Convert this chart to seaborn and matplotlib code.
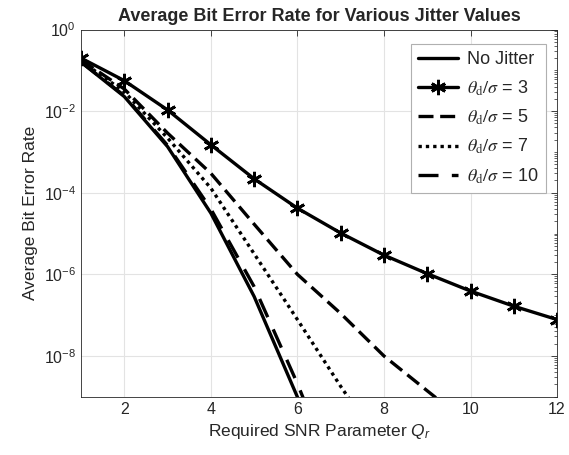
import numpy as np
import matplotlib
matplotlib.use("Agg")
import matplotlib.pyplot as plt
import matplotlib.ticker as mticker
import seaborn as sns

# ---- data ----
q_r = [1, 2, 3, 4, 5, 6, 7, 8, 9, 10, 11, 12]
ber_no_jitter = [0.159, 0.0228, 1.35e-3, 3.17e-5, 2.87e-7, 9.87e-10, 1.28e-12,
                 np.nan, np.nan, np.nan, np.nan, np.nan]
ber_theta3 = [0.20, 0.056, 0.0107, 1.5e-3, 2.2e-4, 4.2e-5, 1.03e-5, 2.96e-6,
              1.04e-6, 3.9e-7, 1.66e-7, 7.8e-8]
ber_theta5 = [0.18, 0.035, 2.9e-3, 3.0e-4, 1.7e-5, 1.0e-6, 1.1e-7, 1.0e-8,
              1.4e-9, 2.0e-10, np.nan, np.nan]
ber_theta7 = [0.17, 0.030, 2.2e-3, 1.3e-4, 3.2e-6, 7.8e-8, 1.8e-9, 5.0e-11,
              np.nan, np.nan, np.nan, np.nan]
ber_theta10 = [0.16, 0.024, 1.45e-3, 4.0e-5, 5.0e-7, 2.1e-9, 5.0e-12,
               np.nan, np.nan, np.nan, np.nan, np.nan]
labels = ["No Jitter", r"$\theta_{\rm d}/\sigma$ = 3", r"$\theta_{\rm d}/\sigma$ = 5",
          r"$\theta_{\rm d}/\sigma$ = 7", r"$\theta_{\rm d}/\sigma$ = 10"]
x_ticks = [2, 4, 6, 8, 10, 12]
y_ticks = [1e0, 1e-2, 1e-4, 1e-6, 1e-8]

sns.set_theme(style="white")
plt.rcParams["font.family"] = ["Liberation Sans", "DejaVu Sans"]
plt.rcParams["mathtext.fontset"] = "custom"
plt.rcParams["mathtext.rm"] = "Liberation Sans"
plt.rcParams["mathtext.it"] = "Liberation Sans:italic"

fig = plt.figure(figsize=(5.69, 4.55), dpi=100)
ax = fig.add_axes([0.1424, 0.128, 0.8366, 0.807])

series = [ber_no_jitter, ber_theta3, ber_theta5, ber_theta7, ber_theta10]
asterisk = (6, 2, 0)
styles = [
    dict(linestyle="-", marker=""),
    dict(linestyle="-", marker=asterisk, markersize=11, markeredgewidth=2.0),
    dict(linestyle=(0, (4.5, 2.0)), marker=""),
    dict(linestyle=(0, (1.0, 1.2)), marker=""),
    dict(linestyle=(0, (6.0, 4.0)), marker=""),
]
for vals, lab in zip(series, labels):
    sns.lineplot(x=q_r, y=vals, ax=ax, color="black", linewidth=2.4, legend=False)

lines = ax.get_lines()
for ln, st in zip(lines, styles):
    ln.set_linestyle(st["linestyle"])
    ln.set_marker(st["marker"])
    if st["marker"]:
        ln.set_markersize(st["markersize"])
        ln.set_markeredgewidth(st["markeredgewidth"])
        ln.set_markeredgecolor("black")
    ln.set_dash_capstyle("butt")

ax.set_yscale("log")
ax.set_xlim(1, 12)
ax.set_ylim(1e-9, 1e0)
ax.set_xticks(x_ticks)
ax.set_xticklabels([str(t) for t in x_ticks])
ax.yaxis.set_major_locator(mticker.FixedLocator(y_ticks))
ax.yaxis.set_minor_locator(mticker.LogLocator(base=10, subs=np.arange(1, 10), numticks=30))
ax.yaxis.set_minor_formatter(mticker.NullFormatter())
ax.tick_params(axis="both", which="both", direction="in", top=True, right=True,
               labelsize=11.5, colors="#262626")
ax.tick_params(which="major", length=4, width=0.6)
ax.tick_params(which="minor", length=2, width=0.5)
ax.grid(True, which="major", color="#e3e3e3", linewidth=0.8)
for s in ax.spines.values():
    s.set_color("#262626")
    s.set_linewidth(0.6)

ax.set_title("Average Bit Error Rate for Various Jitter Values", fontsize=13,
             fontweight="bold", pad=6)
ax.set_xlabel(r"Required SNR Parameter $Q_r$", fontsize=12.5, color="#262626")
ax.set_ylabel("Average Bit Error Rate", fontsize=12.5, color="#262626")

leg = ax.legend(handles=list(lines), labels=labels, loc="upper right", fontsize=13,
                frameon=True, fancybox=False,
                edgecolor="#b0b0b0", framealpha=1, handlelength=2.2,
                borderpad=0.4, labelspacing=0.55, handletextpad=0.5,
                bbox_to_anchor=(0.995, 0.985))
leg.get_frame().set_linewidth(0.8)
for t in leg.get_texts():
    t.set_math_fontfamily("stix")

fig.savefig("out.png", dpi=100)
